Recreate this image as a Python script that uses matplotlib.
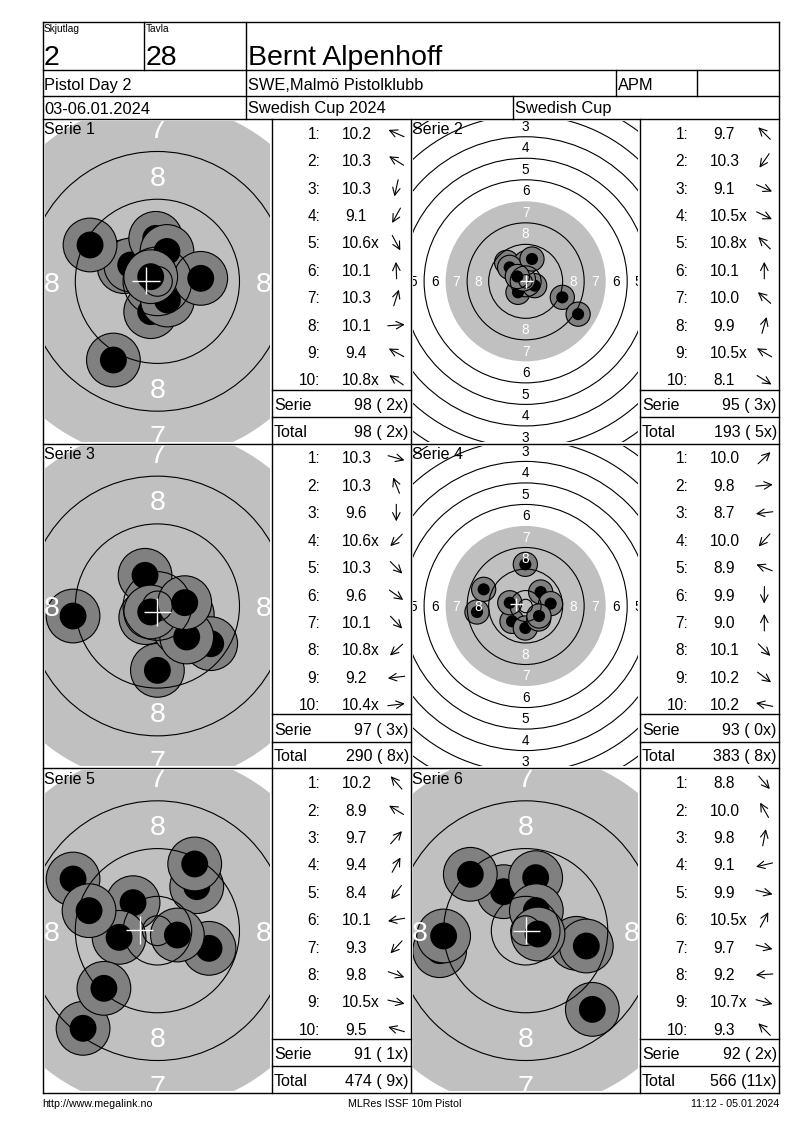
import numpy as np
import matplotlib
matplotlib.use("Agg")
import matplotlib.pyplot as plt
from matplotlib.patches import Circle
from matplotlib import font_manager

# header / footer texts
skjutlag = "2"
tavla = "28"
shooter = "Bernt Alpenhoff"
event = "Pistol Day 2"
club = "SWE,Malmö Pistolklubb"
klass = "APM"
dates = "03-06.01.2024"
competition = "Swedish Cup 2024"
cup = "Swedish Cup"
footer_left = "http://www.megalink.no"
footer_mid = "MLRes ISSF 10m Pistol"
footer_right = "11:12 - 05.01.2024"

# shots per serie: score text, position in mm (x right, y up)
s1_scores = ["10.2", "10.3", "10.3", "9.1", "10.6x", "10.1", "10.3", "10.1", "9.4", "10.8x"]
s1_x = [-5.58, -4.47, -1.12, -7.37, 1.68, -0.28, 1.6, 7.26, -11.28, -1.12]
s1_y = [2.46, 2.74, -5.08, -13.18, -3.13, 7.2, 5.0, 0.5, 6.09, 0.78]

s2_scores = ["9.7", "10.3", "9.1", "10.5x", "10.8x", "10.1", "10.0", "9.9", "10.5x", "8.1"]
s2_x = [-7.06, -2.85, 13.63, 3.35, -0.87, 0.0, -5.95, 2.35, -3.1, 19.5]
s2_y = [7.06, -4.09, -5.95, -1.61, 0.87, 6.82, 5.2, 8.3, 1.8, -12.2]

s3_scores = ["10.3", "10.3", "9.6", "10.6x", "10.3", "9.6", "10.1", "10.8x", "9.2", "10.4x"]
s3_x = [5.0, -2.07, 0.0, -1.95, 3.69, 8.93, 4.91, -1.12, -14.13, 4.58]
s3_y = [-1.4, 5.14, -10.78, -1.95, -3.69, -6.31, -5.19, -1.0, -1.68, 0.56]

s4_scores = ["10.0", "9.8", "8.7", "10.0", "8.9", "9.9", "9.0", "10.1", "10.2", "10.2"]
s4_x = [5.58, 9.29, -18.09, -5.08, -15.61, -0.12, -0.12, 4.83, 4.96, -5.9]
s4_y = [5.2, 0.87, -2.23, -5.7, 6.2, -8.18, 15.49, -4.83, -3.72, 1.2]

s5_scores = ["10.2", "8.9", "9.7", "9.4", "8.4", "10.1", "9.3", "9.8", "10.5x", "9.5"]
s5_x = [-4.08, -14.13, 6.59, 6.25, -12.45, -6.42, -8.96, 8.65, 3.35, -11.45]
s5_y = [4.69, 8.65, 7.37, 11.17, -16.36, -1.12, -9.66, -2.96, -0.73, 3.35]

s6_scores = ["8.8", "10.0", "9.8", "9.1", "9.9", "10.5x", "9.7", "9.2", "10.7x", "9.3"]
s6_x = [11.17, -3.69, 1.68, -14.41, 8.49, 1.79, 10.16, -13.74, 2.07, -9.27]
s6_y = [-13.18, 6.53, 8.88, -3.35, -2.12, 3.35, -2.57, -0.89, -0.56, 9.44]

# white cross (mean point of impact) per serie, mm
mpi_x = [-1.9, 0.25, 0.0, -3.47, -2.96, 0.11]
mpi_y = [0.11, 0.0, -1.0, 0.62, 0.11, 0.0]

series = [(s1_scores, s1_x, s1_y), (s2_scores, s2_x, s2_y), (s3_scores, s3_x, s3_y),
          (s4_scores, s4_x, s4_y), (s5_scores, s5_x, s5_y), (s6_scores, s6_x, s6_y)]

# zoom of each target picture (pixels per mm)
px_per_mm = [5.97, 2.69, 5.97, 2.69, 5.97, 5.97]

names = {f.name for f in font_manager.fontManager.ttflist}
narrow = "Liberation Sans Narrow" in names
plt.rcParams['font.family'] = ['Liberation Sans', 'DejaVu Sans']
big_font = dict(family=['Liberation Sans Narrow', 'Liberation Sans'], fontsize=23.5) if narrow \
    else dict(fontsize=20.5)
tiny_font = dict(family=['Liberation Sans Narrow', 'Liberation Sans'], fontsize=8.5) if narrow \
    else dict(fontsize=7.3)

W, H = 800, 1130
fig = plt.figure(figsize=(8, 11.3), dpi=100)

L, R = 42.5, 779
TOP, BOT = 21.7, 1093
grid_top = 119
row_h = (BOT - grid_top) / 3
tgt_cols = [(L, 272.3), (411, 640.3)]
tab_cols = [(272.3, 411), (640.3, R)]

# ring radii of the ISSF 10m pistol target (outer edges), mm
ring_r = [5.75 + 8 * (10 - n) for n in range(10, 0, -1)]
inner_ten = 2.5
black_r = 29.75

for i, (scores, xs, ys) in enumerate(series):
    row, col = divmod(i, 2)
    T = grid_top + row * row_h
    x0, x1 = tgt_cols[col]
    k = px_per_mm[i]
    aw = x1 - x0 - 4
    ah = row_h - 4
    ax = fig.add_axes([(x0 + 2) / W, 1 - (T + 2 + ah) / H, aw / W, ah / H])
    hw, hh = aw / 2 / k, ah / 2 / k
    ax.set_xlim(-hw, hw)
    ax.set_ylim(-hh, hh)
    ax.axis('off')

    ax.add_patch(Circle((0, 0), black_r, fc='#c0c0c0', ec='none', zorder=1))
    for j, (sx, sy) in enumerate(zip(xs, ys)):
        ax.add_patch(Circle((sx, sy), 4.5, fc='#808080', ec='black', lw=0.8, zorder=2 + j * 0.01))
        ax.add_patch(Circle((sx, sy), 2.25, fc='black', ec='none', zorder=2.005 + j * 0.01))

    for r in [inner_ten] + [r for r in ring_r if abs(r - black_r) > 0.1]:
        ax.add_patch(Circle((0, 0), r, fill=False, ec='black', lw=0.8, zorder=5))

    fs = 20.5 if k > 4 else 9.8
    em_mm = fs / 0.72 / k
    for n in range(1, 9):
        rm = 5.75 + 8 * (10 - n) - 4
        c = 'white' if n >= 7 else 'black'
        for px, py in [(0, rm), (0, -rm), (rm, 0), (-rm, 0)]:
            ax.text(px, py - 0.36 * em_mm, str(n), ha='center', va='baseline',
                    fontsize=fs, color=c, zorder=5, clip_on=True)

    mx, my = mpi_x[i], mpi_y[i]
    ax.plot([mx - 2.3, mx + 2.3], [my, my], color='white', lw=1, zorder=6, solid_capstyle='butt')
    ax.plot([mx, mx], [my - 2.3, my + 2.3], color='white', lw=1, zorder=6, solid_capstyle='butt')

bg = fig.add_axes([0, 0, 1, 1], zorder=10)
bg.set_xlim(0, W)
bg.set_ylim(H, 0)
bg.axis('off')
lc = dict(color='black', lw=1.0)

# frame and header grid
for y in [TOP, 70, 95.7, grid_top, grid_top + row_h, grid_top + 2 * row_h, BOT]:
    bg.plot([L, R], [y, y], **lc)
bg.plot([L, L], [TOP, BOT], **lc)
bg.plot([R, R], [TOP, BOT], **lc)
bg.plot([144, 144], [TOP, 70], **lc)
bg.plot([246, 246], [TOP, grid_top], **lc)
bg.plot([616, 616], [70, 95.7], **lc)
bg.plot([697, 697], [70, 95.7], **lc)
bg.plot([513, 513], [95.7, grid_top], **lc)
for x in [272.3, 411, 640.3]:
    bg.plot([x, x], [grid_top, BOT], **lc)

bg.text(44, 24, "Skjutlag", va='top', **tiny_font)
bg.text(146, 24, "Tavla", va='top', **tiny_font)
bg.text(44, 65, skjutlag, va='baseline', **big_font)
bg.text(146, 65, tavla, va='baseline', **big_font)
bg.text(248, 65, shooter, va='baseline', **big_font)
hf = 11.8
bg.text(44, 89.8, event, va='baseline', fontsize=hf)
bg.text(248, 89.8, club, va='baseline', fontsize=hf)
bg.text(618, 89.8, klass, va='baseline', fontsize=hf)
bg.text(44, 113.5, dates, va='baseline', fontsize=hf)
bg.text(248, 113.5, competition, va='baseline', fontsize=hf)
bg.text(515, 113.5, cup, va='baseline', fontsize=hf)

# score tables
total, total_x = 0, 0
for i, (scores, xs, ys) in enumerate(series):
    row, col = divmod(i, 2)
    T = grid_top + row * row_h
    x0, x1 = tab_cols[col]
    tx0 = tgt_cols[col][0]
    bg.text(tx0 + 1.5, T + 15.5, f"Serie {i + 1}", va='baseline', fontsize=11.5)
    vals = [float(s.rstrip('x')) for s in scores]
    for j, s in enumerate(scores):
        yb = T + 19.8 + j * 27.41
        bg.text(x0 + 48, yb, f"{j + 1}:", ha='right', va='baseline', fontsize=11.2)
        bg.text(x0 + 70 + (2.7 if vals[j] < 10 else 0), yb, s, ha='left', va='baseline', fontsize=11.2)
        th = np.arctan2(ys[j], xs[j])
        cx, cy = x0 + 124, yb - 5.5
        dx, dy = 8.5 * np.cos(th), -8.5 * np.sin(th)
        bg.annotate("", xy=(cx + dx, cy + dy), xytext=(cx - dx, cy - dy),
                    arrowprops=dict(arrowstyle="->,head_length=0.6,head_width=0.3", lw=0.8,
                                    color='black', shrinkA=0, shrinkB=0, mutation_scale=9))
    serie = int(sum(np.floor(vals)))
    nx = sum(s.endswith('x') for s in scores)
    total += serie
    total_x += nx
    bg.plot([x0, x1], [T + 270.7, T + 270.7], **lc)
    bg.plot([x0, x1], [T + 298, T + 298], **lc)
    bg.text(x0 + 1.5, T + 291, "Serie", va='baseline', fontsize=11.5)
    bg.text(x0 + 136.5, T + 291, f"{serie} ({nx:2d}x)", ha='right', va='baseline', fontsize=11.5)
    bg.text(x0 + 1.5, T + 317.7, "Total", va='baseline', fontsize=11.5)
    bg.text(x0 + 136.5, T + 317.7, f"{total} ({total_x:2d}x)", ha='right', va='baseline', fontsize=11.5)

bg.text(L, 1104, footer_left, va='center', fontsize=7.7)
bg.text(405, 1104, footer_mid, ha='center', va='center', fontsize=7.7)
bg.text(R, 1104, footer_right, ha='right', va='center', fontsize=7.7)

fig.savefig("out.png", dpi=100)
